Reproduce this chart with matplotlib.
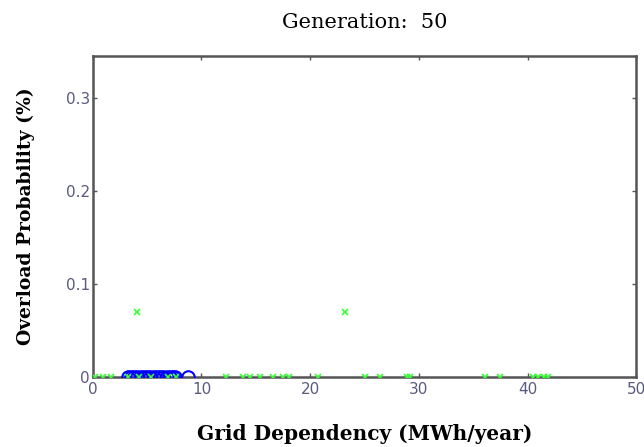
import matplotlib
matplotlib.use('Agg')
import matplotlib.pyplot as plt

# population at generation 50 (grid dependency, overload probability)
green_x = [0.2, 0.9, 1.7, 3.2, 4.3, 5.4, 6.9, 7.7, 12.3, 13.8, 14.5, 15.4,
           16.6, 17.5, 18.1, 20.7, 25.0, 26.4, 28.9, 29.2, 36.1, 37.5,
           40.5, 41.0, 41.5, 41.9, 4.05, 23.2]
green_y = [0.0] * 26 + [0.07, 0.07]

blue_x = [3.2, 3.5, 3.8, 4.1, 4.4, 4.7, 5.0, 5.3, 5.6, 5.9, 6.2, 6.5,
          6.8, 7.1, 7.4, 7.6, 8.8]
blue_y = [0.0] * len(blue_x)

x_ticks = [0, 10, 20, 30, 40, 50]
y_ticks = [0, 0.1, 0.2, 0.3]
y_tick_labels = ['0', '0.1', '0.2', '0.3']

fig = plt.figure(figsize=(6.44, 4.47), dpi=100)
ax = fig.add_axes([0.144, 0.157, 0.844, 0.718])

ax.plot(blue_x, blue_y, 'o', markerfacecolor='none', markeredgecolor='#0000ff',
        markersize=9, markeredgewidth=1.5, zorder=3)
ax.plot(green_x, green_y, 'x', color='#33ff33', markersize=5,
        markeredgewidth=1.2, zorder=4)

ax.set_xlim(0, 50)
ax.set_ylim(0, 0.345)
ax.set_xticks(x_ticks)
ax.set_yticks(y_ticks)
ax.set_yticklabels(y_tick_labels)
ax.tick_params(direction='in', top=True, right=True, length=3, width=1,
               colors='#555555', labelcolor='#5a5a80', labelsize=11)
ax.tick_params(axis='y', pad=2)
for s in ax.spines.values():
    s.set_color('#555555')
    s.set_linewidth(1.8)

ax.set_title('Generation:  50', fontsize=15, family='DejaVu Serif', pad=20)
ax.set_xlabel('Grid Dependency (MWh/year)', fontsize=14.5, family='DejaVu Serif',
              fontweight='bold', labelpad=20)
ax.set_ylabel('Overload Probability (%)', fontsize=13.5, family='DejaVu Serif',
              fontweight='bold', labelpad=22)

fig.savefig('out.png', dpi=100)
